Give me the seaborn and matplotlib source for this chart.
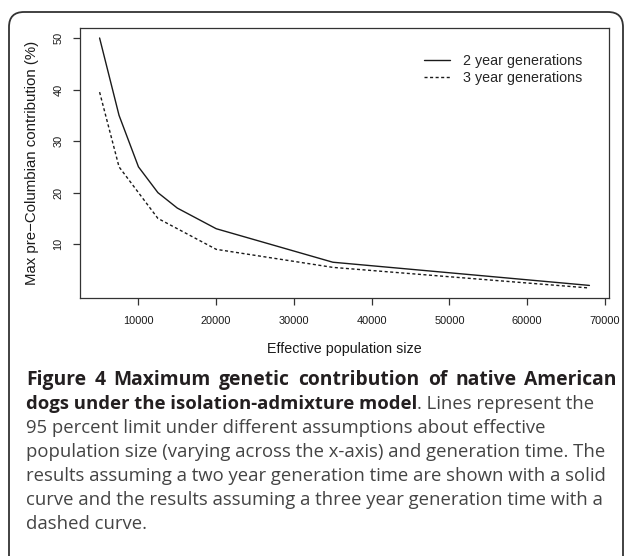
import pandas as pd
import seaborn as sns
import matplotlib.pyplot as plt
from matplotlib.patches import FancyBboxPatch

# values
pop_size = [5000, 7500, 10000, 12500, 15000, 20000, 35000, 68000]
two_year = [50, 35, 25, 20, 17, 13, 6.5, 2]
three_year = [39.5, 25, 20, 15, 13, 9, 5.5, 1.5]
series_names = ['2 year generations', '3 year generations']
x_ticks = [10000, 20000, 30000, 40000, 50000, 60000, 70000]
y_ticks = [10, 20, 30, 40, 50]

df = pd.DataFrame({
    'Ne': pop_size + pop_size,
    'contrib': two_year + three_year,
    'gen': [series_names[0]] * len(pop_size) + [series_names[1]] * len(pop_size),
})

sns.set_style('ticks')
plt.rcParams['font.family'] = ['Liberation Sans', 'DejaVu Sans']

W, H = 627, 556
fig = plt.figure(figsize=(W / 100, H / 100), dpi=100)
# axes box in pixels: left 80, right 609, top 28, bottom 298
ax = fig.add_axes([80 / W, 1 - 298 / H, (609 - 80) / W, (298 - 28) / H])

sns.lineplot(data=df, x='Ne', y='contrib', style='gen',
             dashes={series_names[0]: '', series_names[1]: (2.2, 1.8)},
             color='#1a1a1a', linewidth=1.0, ax=ax)

# R style 4% padding
xr = max(pop_size) - min(pop_size)
ax.set_xlim(min(pop_size) - 0.04 * xr, max(pop_size) + 0.04 * xr)
allv = two_year + three_year
yr = max(allv) - min(allv)
ax.set_ylim(min(allv) - 0.04 * yr, max(allv) + 0.04 * yr)

ax.set_xticks(x_ticks)
ax.set_xticklabels([str(v) for v in x_ticks])
ax.set_yticks(y_ticks)
ax.set_yticklabels([str(v) for v in y_ticks], rotation=90, va='center')
ax.tick_params(direction='out', length=5, width=0.9, color='#333333',
               labelcolor='#1a1a1a', labelsize=7.9)
ax.tick_params(axis='x', pad=8)
ax.tick_params(axis='y', pad=7)
for s in ax.spines.values():
    s.set_color('#333333')
    s.set_linewidth(0.9)

ax.set_xlabel('Effective population size', fontsize=10.3, color='#1a1a1a')
ax.set_ylabel('Max pre\u2212Columbian contribution (%)', fontsize=10.8, color='#1a1a1a')
ax.xaxis.label.set_va('center')
ax.yaxis.label.set_va('center')
ax.xaxis.set_label_coords(0.5, (298 - 349) / 270)
ax.yaxis.set_label_coords((32 - 80) / 529, 0.5)

sns.move_legend(ax, loc='upper left', bbox_to_anchor=(424 / W, 1 - 54 / H),
                bbox_transform=fig.transFigure, frameon=False, title=None,
                fontsize=10.3, handlelength=1.8, handletextpad=0.9,
                labelspacing=0.2, borderpad=0, borderaxespad=0)

# rounded outer frame (runs off the bottom of the image)
frame = FancyBboxPatch((0.09, -0.3), 6.14, 5.44 + 0.3,
                       boxstyle='round,pad=0,rounding_size=0.15',
                       transform=fig.dpi_scale_trans, fill=False,
                       ec='#333333', lw=1.3)
fig.add_artist(frame)

# caption
cap_font = ['Open Sans', 'DejaVu Sans']
cap_size = 13.3
x0 = 26
base = [385 + 24 * i for i in range(7)]
renderer = fig.canvas.get_renderer()

# first line is spread out to the right edge, word by word
words = 'Figure 4 Maximum genetic contribution of native American'.split(' ')
word_txt = [fig.text(0, 1 - base[0] / H, w, family=cap_font, fontsize=13.9,
                     weight='bold', color='#231f20', va='baseline') for w in words]
widths = [t.get_window_extent(renderer).width for t in word_txt]
gap = (617 - x0 - sum(widths)) / (len(words) - 1)
xpos = x0
for t, w in zip(word_txt, widths):
    t.set_x(xpos / W)
    xpos += w + gap

bold2 = fig.text(x0 / W, 1 - base[1] / H, 'dogs under the isolation-admixture model',
                 family=cap_font, fontsize=cap_size, weight='bold', color='#231f20', va='baseline')
bb = bold2.get_window_extent(renderer)
fig.text(bb.x1 / W, 1 - base[1] / H, '. Lines represent the',
         family=cap_font, fontsize=cap_size, color='#444444', va='baseline')
rest = [
    '95 percent limit under different assumptions about effective',
    'population size (varying across the x-axis) and generation time. The',
    'results assuming a two year generation time are shown with a solid',
    'curve and the results assuming a three year generation time with a',
    'dashed curve.',
]
for i, line in enumerate(rest):
    fig.text(x0 / W, 1 - base[i + 2] / H, line, family=cap_font, fontsize=cap_size,
             color='#444444', va='baseline')

fig.savefig('out.png', dpi=100)
